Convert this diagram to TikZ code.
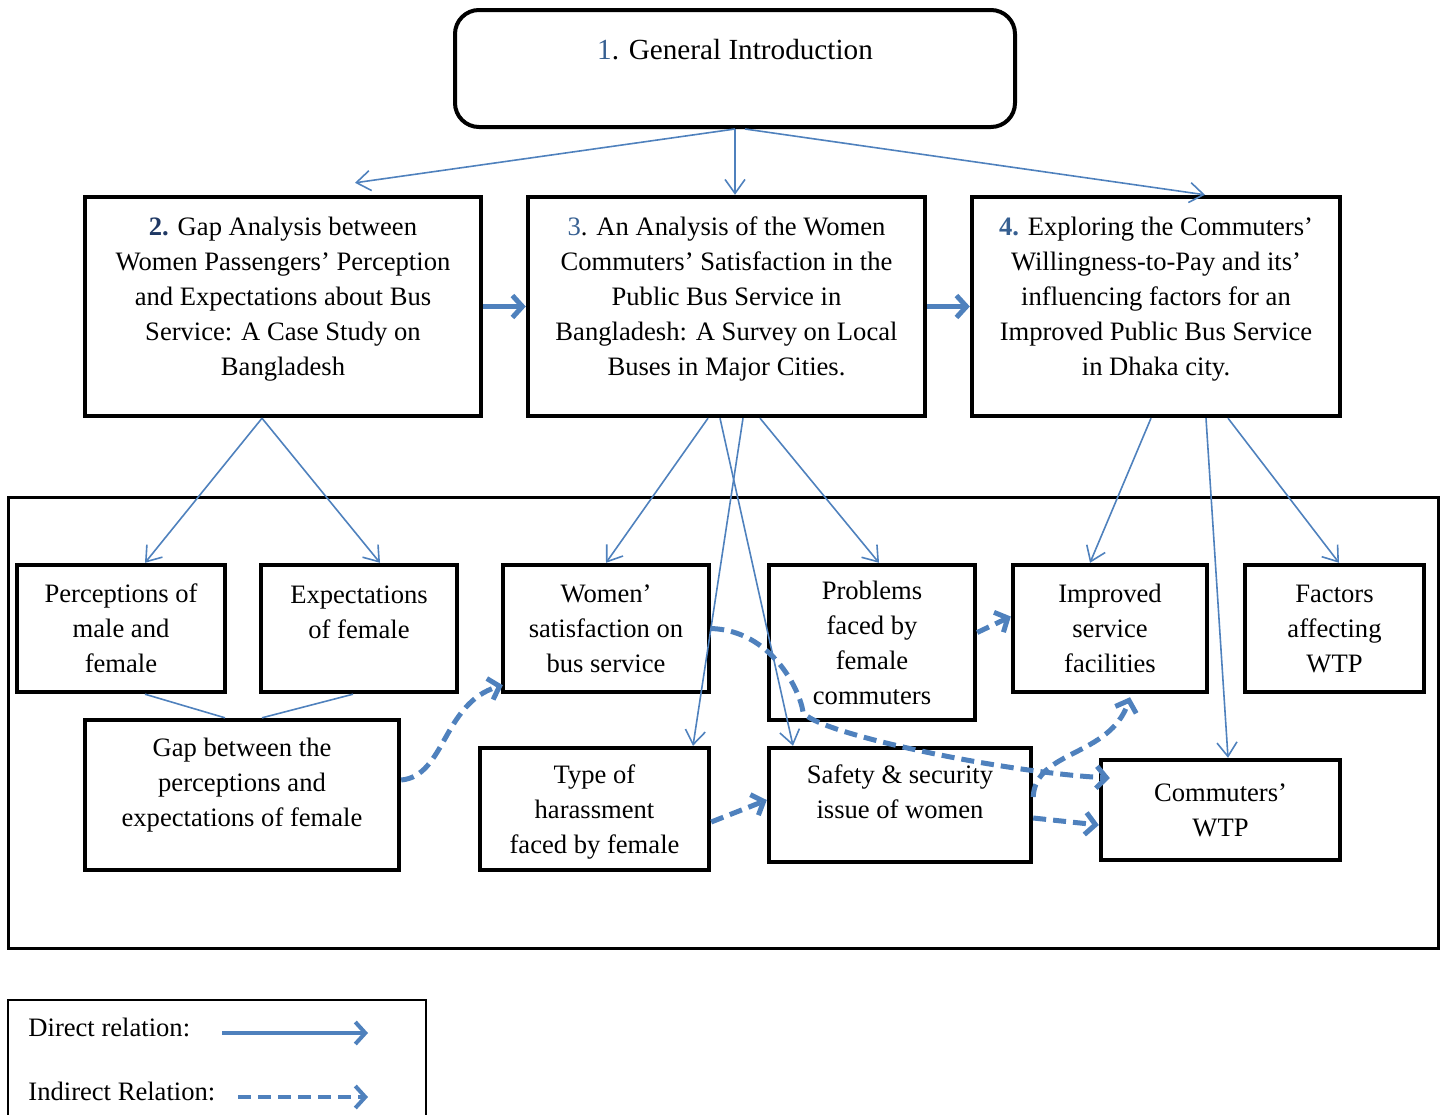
\documentclass[tikz,border=0pt]{standalone}
\usepackage{fontspec}
\setmainfont{Liberation Serif}
\usetikzlibrary{arrows.meta, positioning}
\definecolor{arrblue}{HTML}{4F81BD}
\definecolor{numblue}{HTML}{365F91}
\definecolor{navy}{HTML}{1F3864}

\begin{document}
\begin{tikzpicture}[x=0.5pt, y=-0.5pt,
    every node/.style={font=\fontsize{13.3}{17.5}\selectfont},
    bx/.style={draw, line width=2.2pt, align=center, inner sep=0pt},
    arr/.style={-{Straight Barb[length=7pt,width=10pt]}, arrblue, line width=0.8pt},
    link/.style={arrblue, line width=0.8pt},
    thk/.style={-{Straight Barb[length=5pt,width=11pt]}, arrblue, line width=2.5pt},
    dsh/.style={thk, dash pattern=on 6.5pt off 3.5pt}]
  \useasboundingbox (0,0) rectangle (1445,1114);

  % papers
  \node[bx, rounded corners=12pt, line width=2pt, minimum width=280pt, minimum height=58.5pt,
        text depth=19pt, font=\fontsize{14.6}{17.5}\selectfont] (intro) at (735,68.5) {{\color{numblue}1}. General Introduction};
  \node[bx, minimum width=198pt, minimum height=109.5pt, text depth=10pt] (b2) at (283,306.5)
    {\textbf{\color{navy}2.} Gap Analysis between\\Women Passengers’ Perception\\and Expectations about Bus\\Service: A Case Study on\\Bangladesh};
  \node[bx, minimum width=198.5pt, minimum height=109.5pt, text depth=10pt] (b3) at (726.5,306.5)
    {{\color{numblue}3}. An Analysis of the Women\\Commuters’ Satisfaction in the\\Public Bus Service in\\Bangladesh: A Survey on Local\\Buses in Major Cities.};
  \node[bx, minimum width=184pt, minimum height=109.5pt, text depth=10pt] (b4) at (1156,306.5)
    {\textbf{\color{numblue}4.} Exploring the Commuters’\\Willingness-to-Pay and its’\\influencing factors for an\\Improved Public Bus Service\\in Dhaka city.};

  % topics
  \draw[line width=1.5pt] (8,497) rectangle (1438,948);
  \node[bx, minimum width=104pt, minimum height=63.5pt] (perc) at (121,628.5) {Perceptions of\\male and\\female};
  \node[bx, minimum width=98pt, minimum height=63.5pt, text depth=16.5pt] (expe) at (359,628.5) {Expectations\\of female};
  \node[bx, minimum width=103pt, minimum height=63.5pt] (wsat) at (606,628.5) {Women’\\satisfaction on\\bus service};
  \node[bx, minimum width=103pt, minimum height=77.5pt, text depth=0pt] (prob) at (872,642.5) {Problems\\faced by\\female\\commuters};
  \node[bx, minimum width=97pt, minimum height=63.5pt] (impr) at (1110,628.5) {Improved\\service\\facilities};
  \node[bx, minimum width=89.5pt, minimum height=63.5pt] (fact) at (1334.5,628.5) {Factors\\affecting\\WTP};
  \node[bx, minimum width=157pt, minimum height=75pt, text depth=13pt] (gapb) at (242,795) {Gap between the\\perceptions and\\expectations of female};
  \node[bx, minimum width=114.5pt, minimum height=61pt, text depth=0pt] (type) at (594.5,809) {Type of\\harassment\\faced by female};
  \node[bx, minimum width=131pt, minimum height=57pt, text depth=13pt] (safe) at (900,805) {Safety \& security\\issue of women};
  \node[bx, minimum width=119.5pt, minimum height=50pt] (wtp) at (1220.5,810) {Commuters’\\WTP};

  % direct relations
  \draw[arr] (intro.south) -- ([xshift=36pt,yshift=6pt]b2.north);
  \draw[arr] (intro.south) -- (intro.south |- b3.north);
  \draw[arr] ([xshift=5pt]intro.south) -- ([xshift=24.5pt]b4.north);
  \draw[thk] (b2.east) -- (b3.west); \draw[thk] (b3.east) -- (b4.west);
  \draw[arr] ([xshift=-10.5pt]b2.south) -- ([xshift=12pt]perc.north);
  \draw[arr] ([xshift=-10.5pt]b2.south) -- ([xshift=10.5pt]expe.north);
  \draw[link] ([xshift=12pt]perc.south) -- ([xshift=-8.5pt]gapb.north);
  \draw[link] ([xshift=-3pt]expe.south) -- ([xshift=10pt]gapb.north);
  \draw[arr] ([xshift=-9.25pt]b3.south) -- (wsat.north);
  \draw[arr] ([xshift=-3.25pt]b3.south) -- ([xshift=-53.5pt]safe.north);
  \draw[arr] ([xshift=8.25pt]b3.south) -- ([xshift=49.25pt]type.north);
  \draw[arr] ([xshift=16.75pt]b3.south) -- ([xshift=3.5pt]prob.north);
  \draw[arr] ([xshift=-2.5pt]b4.south) -- ([xshift=-10pt]impr.north);
  \draw[arr] ([xshift=25pt]b4.south) -- ([xshift=3.75pt]wtp.north);
  \draw[arr] ([xshift=36pt]b4.south) -- ([xshift=2.25pt]fact.north);

  % indirect relations
  \coordinate (bend) at (803,712);
  \draw[dsh] ([yshift=7.5pt]gapb.east) .. controls +(22pt,2pt) and +(-30pt,-9pt) .. ([xshift=1pt,yshift=4.5pt]wsat.south west);
  \draw[dsh] (wsat.east) .. controls +(30pt,-1pt) and +(-1.5pt,11pt) .. (bend)
    .. controls +(5pt,-10pt) and +(-56pt,3pt) .. ([xshift=5.5pt,yshift=16pt]wtp.west);
  \draw[dsh] ([yshift=5pt]prob.east) -- ([yshift=6pt]impr.west);
  \draw[dsh] ([yshift=-6.5pt]type.east) -- ([yshift=2.5pt]safe.west);
  \draw[dsh] ([yshift=-6.5pt]safe.east) -- ([yshift=-7.5pt]wtp.west);
  \draw[dsh] ([yshift=4pt]safe.east) .. controls +(1pt,23.5pt) and +(-10pt,-30pt) .. ([xshift=10pt,yshift=-1.5pt]impr.south);

  % legend
  \draw[line width=0.6pt] (8,1000) rectangle (426,1125);
  \node[anchor=west, inner sep=0pt] (dlab) at (28,1027) {Direct relation:};
  \node[anchor=west, inner sep=0pt] (ilab) at (28,1091) {Indirect Relation:};
  \coordinate (dbeg) at (222,1033); \coordinate (dend) at (368,1033);
  \coordinate (ibeg) at (238,1097); \coordinate (iend) at (368,1097);
  \draw[thk, line width=2pt] (dbeg) -- (dend);
  \draw[dsh, line width=2pt] (ibeg) -- (iend);
\end{tikzpicture}
\end{document}
